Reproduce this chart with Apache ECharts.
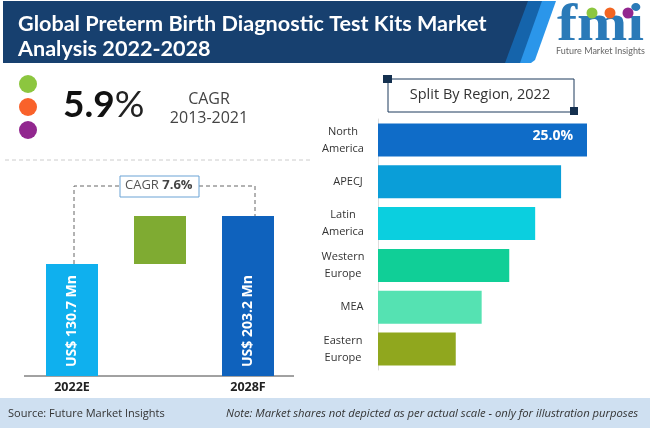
<!DOCTYPE html>
<html>
<head>
<meta charset="utf-8">
<style>
html, body { margin: 0; padding: 0; background: #fff; }
#main { width: 650px; height: 428px; }
</style>
<script src="https://cdn.jsdelivr.net/npm/echarts@6/dist/echarts.min.js"></script>
</head>
<body>
<div id="main"></div>
<script>
// bars on the left are not to scale in the picture, so heights are read as % of the tall one
var forecastYears = ['2022E', '', '2028F'];
var forecastLabels = ['US$ 130.7 Mn', '', 'US$ 203.2 Mn'];
var forecastBase = [0, 70, 0];
var forecastHeights = [70, 30, 100];
var forecastColors = ['#0fb0ee', '#7fab32', '#0f62bd'];

var regions = ['North\nAmerica', 'APECJ', 'Latin\nAmerica', 'Western\nEurope', 'MEA', 'Eastern\nEurope'];
var regionShares = [25.0, 21.9, 18.8, 15.7, 12.4, 9.3];
var regionColors = ['#0f6cc8', '#0a9ed8', '#0bcfdf', '#10cf97', '#55e2b2', '#90a71e'];

var titleLines = 'Global Preterm Birth Diagnostic Test Kits Market\nAnalysis 2022-2028';
var sourceText = 'Source: Future Market Insights';
var noteText = 'Note: Market shares not depicted as per actual scale - only for illustration purposes';

var sans = '"Open Sans", "Noto Sans", sans-serif';
var lato = 'Lato, "Open Sans", sans-serif';
var myChart = echarts.init(document.getElementById('main'));

var dash = { stroke: '#666', lineWidth: 1, lineDash: [4, 3] };

// one-line labels sit further right than the two-line ones
var labelPad = { 'APECJ': 10, 'MEA': 18 };

var graphics = [
    // header band
    { type: 'rect', shape: { x: 3, y: 1, width: 525, height: 62 }, style: { fill: '#17406f' } },
    { type: 'polygon', shape: { points: [[528, 1], [544, 1], [522, 63], [505, 63]] }, style: { fill: '#1564ab' } },
    { type: 'polygon', shape: { points: [[542, 1], [556, 1], [535, 60], [531, 63], [520, 63]] }, style: { fill: '#2b96ea' } },
    { type: 'text', style: { x: 18, y: 12, text: titleLines, fill: '#fff', font: 'bold 21.6px ' + lato, lineHeight: 25 } },
    // logo
    { type: 'text', x: 557, y: 1, scaleX: 1.16, style: { x: 0, y: 0, text: 'fmi', fill: '#2a7ab8', font: 'bold 52px "Liberation Serif", serif' } },
    { type: 'circle', shape: { cx: 592, cy: 13, r: 5.5 }, style: { fill: '#8cc63f' } },
    { type: 'circle', shape: { cx: 610, cy: 13, r: 5.5 }, style: { fill: '#f26522' } },
    { type: 'circle', shape: { cx: 628, cy: 13, r: 5.5 }, style: { fill: '#92278f' } },
    { type: 'text', style: { x: 556, y: 47, text: 'Future Market Insights', fill: '#666', font: '9px ' + lato } },
    // CAGR block
    { type: 'circle', shape: { cx: 28, cy: 84, r: 9 }, style: { fill: '#8cc63f' } },
    { type: 'circle', shape: { cx: 28, cy: 107, r: 9 }, style: { fill: '#f9622b' } },
    { type: 'circle', shape: { cx: 28, cy: 130, r: 9 }, style: { fill: '#92278f' } },
    { type: 'text', style: { x: 63, y: 87, rich: { a: { fill: '#111', font: 'bold 37px ' + lato }, b: { fill: '#222', font: '37px ' + lato } }, text: '{a|5.9}{b|%}' } },
    { type: 'text', style: { x: 209, y: 91, text: 'CAGR', fill: '#444', font: '16px ' + sans, align: 'center' } },
    { type: 'text', style: { x: 209, y: 110, text: '2013-2021', fill: '#444', font: '16px ' + sans, align: 'center' } },
    { type: 'line', shape: { x1: 5, y1: 160, x2: 310, y2: 160 }, style: { stroke: '#ccc', lineWidth: 1, lineDash: [4, 3] } },
    // CAGR bracket over the bars
    { type: 'polyline', shape: { points: [[74, 264], [74, 186], [120, 186]] }, style: dash },
    { type: 'polyline', shape: { points: [[199, 186], [255, 186], [255, 216]] }, style: dash },
    { type: 'rect', shape: { x: 120, y: 176, width: 79, height: 21 }, style: { fill: '#fff', stroke: '#6aa3d5', lineWidth: 1 } },
    { type: 'text', style: { x: 125, y: 179, rich: { a: { fill: '#555', font: '13px ' + sans }, b: { fill: '#444', font: 'bold 13px ' + sans } }, text: '{a|CAGR }{b|7.6%}' } },
    // left chart baseline runs past the grid on both sides
    { type: 'line', shape: { x1: 24, y1: 376, x2: 294, y2: 376 }, style: { stroke: '#444', lineWidth: 1 } },
    // split box
    { type: 'rect', shape: { x: 388, y: 79, width: 186, height: 33 }, style: { fill: '#fff', stroke: '#1c3a5c', lineWidth: 1 } },
    { type: 'rect', shape: { x: 383, y: 75, width: 9, height: 8 }, style: { fill: '#14304f' } },
    { type: 'rect', shape: { x: 570, y: 107, width: 8, height: 8 }, style: { fill: '#14304f' } },
    { type: 'text', style: { x: 480, y: 87, text: 'Split By Region, 2022', fill: '#333', font: '14.5px ' + sans, align: 'center' } },
    // footer
    { type: 'rect', shape: { x: 0, y: 398, width: 650, height: 30 }, style: { fill: '#cfe0f1' } },
    { type: 'text', style: { x: 8, y: 408, text: sourceText, fill: '#333', font: '11px ' + sans } },
    { type: 'text', style: { x: 226, y: 408, text: noteText, fill: '#333', font: 'italic 11.25px ' + sans } }
];

var option = {
    animation: false,
    backgroundColor: '#fff',
    grid: [
        { left: 28, top: 216, width: 264, height: 160 },
        { left: 378, top: 119, width: 209, height: 251 }
    ],
    xAxis: [
        {
            type: 'category', gridIndex: 0, data: forecastYears,
            axisTick: { show: false },
            axisLine: { show: false },
            axisLabel: { color: '#222', fontWeight: 'bold', fontSize: 12.5, fontFamily: sans, interval: 0, margin: 5 }
        },
        { type: 'value', gridIndex: 1, min: 0, max: 25, show: false }
    ],
    yAxis: [
        { type: 'value', gridIndex: 0, min: 0, max: 100, show: false },
        {
            type: 'category', gridIndex: 1, inverse: true,
            data: regions.map(function (r) {
                return labelPad[r] ? { value: r, textStyle: { align: 'center', padding: [0, 0, 0, labelPad[r]] } } : r;
            }),
            axisLine: { lineStyle: { color: '#ddd' } },
            axisTick: { length: 5, lineStyle: { color: '#ccc' } },
            axisLabel: { color: '#333', fontSize: 11, fontFamily: sans, lineHeight: 17, margin: 35, align: 'center' }
        }
    ],
    series: [
        {
            type: 'bar', xAxisIndex: 0, yAxisIndex: 0, stack: 'forecast', barWidth: 52, silent: true,
            itemStyle: { color: 'transparent' },
            data: forecastBase
        },
        {
            type: 'bar', xAxisIndex: 0, yAxisIndex: 0, stack: 'forecast', barWidth: 52,
            data: forecastHeights.map(function (h, i) {
                return {
                    value: h,
                    itemStyle: { color: forecastColors[i] },
                    label: {
                        show: forecastLabels[i] !== '', formatter: forecastLabels[i],
                        position: 'insideBottom', rotate: 90, align: 'left', verticalAlign: 'middle', distance: 9,
                        color: '#fff', fontWeight: 'bold', fontSize: 14, fontFamily: sans
                    }
                };
            })
        },
        {
            type: 'bar', xAxisIndex: 1, yAxisIndex: 1, barWidth: 33,
            data: regionShares.map(function (v, i) {
                return {
                    value: v,
                    itemStyle: { color: regionColors[i] },
                    label: {
                        show: i === 0, formatter: v.toFixed(1) + '%', position: 'insideTopRight', distance: 8, offset: [-6, -2],
                        color: '#fff', fontWeight: 'bold', fontSize: 14, fontFamily: sans
                    }
                };
            })
        }
    ],
    graphic: graphics
};
myChart.setOption(option);
</script>
</body>
</html>
